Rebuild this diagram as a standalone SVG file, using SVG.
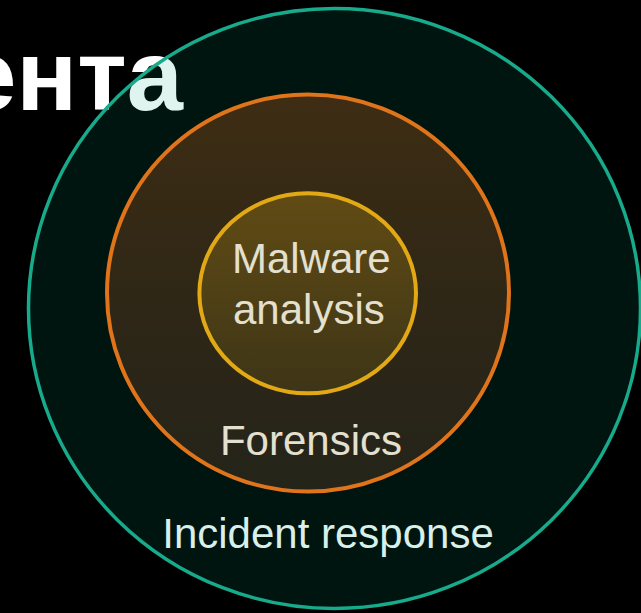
<svg xmlns="http://www.w3.org/2000/svg" width="641" height="613" viewBox="0 0 641 613">
  <defs>
    <linearGradient id="gMid" x1="0" y1="0" x2="0" y2="1">
      <stop offset="0" stop-color="#3e2d13"/>
      <stop offset="0.5" stop-color="#2f2716"/>
      <stop offset="1" stop-color="#24241a"/>
    </linearGradient>
    <linearGradient id="gIn" x1="0" y1="0" x2="0" y2="1">
      <stop offset="0" stop-color="#614b14"/>
      <stop offset="1" stop-color="#3d3517"/>
    </linearGradient>
    <style>
      .lbl { font-family: "Liberation Sans", Arial, sans-serif; font-size: 42px; }
      .warm { fill: #e4e0cf; }
      .cool { fill: #d8f0ea; }
      .title { font-family: "Liberation Sans", Arial, sans-serif; font-size: 101px; font-weight: bold; fill: #ffffff; }
    </style>
  </defs>
  <rect x="0" y="0" width="641" height="613" fill="#000000"/>
  <text class="title" x="183" y="110" text-anchor="end">ента</text>

  <g id="incident-response">
    <ellipse cx="334.5" cy="308.5" rx="306" ry="300" fill="#00a080" fill-opacity="0.125" stroke="#17aa8b" stroke-width="3.5"/>
    <text class="lbl cool" x="328" y="548" text-anchor="middle">Incident response</text>
  </g>

  <g id="forensics">
    <ellipse cx="308" cy="293" rx="201" ry="198.5" fill="url(#gMid)" stroke="#e0741a" stroke-width="4"/>
    <text class="lbl warm" x="311" y="455" text-anchor="middle">Forensics</text>
  </g>

  <g id="malware-analysis">
    <ellipse cx="307.7" cy="293.3" rx="108.3" ry="100" fill="url(#gIn)" stroke="#e2a915" stroke-width="4"/>
    <text class="lbl warm" x="232" y="273">Malware</text>
    <text class="lbl warm" x="233" y="324">analysis</text>
  </g>

  <g id="connectors"/>
</svg>
